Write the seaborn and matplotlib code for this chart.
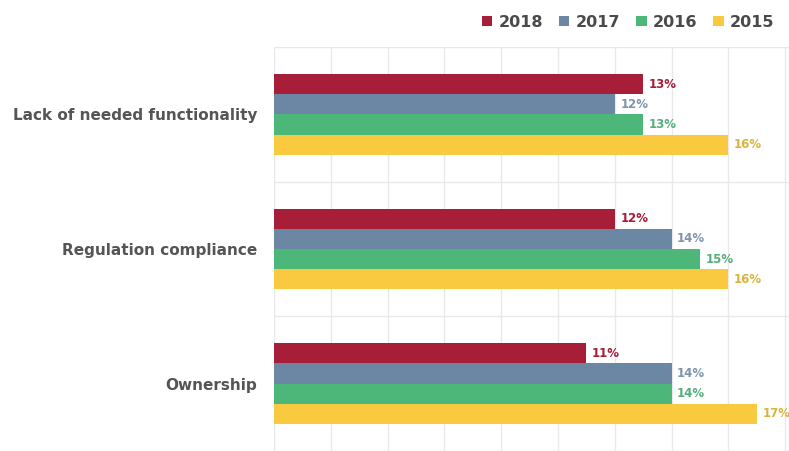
import matplotlib
matplotlib.use("Agg")
import matplotlib.pyplot as plt
import seaborn as sns
import pandas as pd

# Reasons cited, by survey year (percent of respondents)
categories = ["Lack of needed functionality", "Regulation compliance", "Ownership"]
years = ["2018", "2017", "2016", "2015"]
values_2018 = [13, 12, 11]
values_2017 = [12, 14, 14]
values_2016 = [13, 15, 14]
values_2015 = [16, 16, 17]

bar_colors = ["#A71E38", "#6C87A3", "#4DB679", "#F9C940"]
label_colors = ["#A71E38", "#7F95AD", "#53B07C", "#D9B43E"]

series = {"2018": values_2018, "2017": values_2017, "2016": values_2016, "2015": values_2015}
df = pd.DataFrame(
    [(cat, yr, series[yr][i]) for yr in years for i, cat in enumerate(categories)],
    columns=["category", "year", "value"],
)

sns.set_theme(style="white")
plt.rcParams["font.family"] = ["DejaVu Sans"]

fig = plt.figure(figsize=(7.89, 4.51), dpi=100)
ax = fig.add_axes([274 / 789, 0.0, 1 - 274 / 789, 1 - 47 / 451])

sns.barplot(
    data=df, y="category", x="value", hue="year", hue_order=years,
    order=categories, palette=bar_colors, width=0.6, saturation=1,
    orient="h", ax=ax, linewidth=0, legend=True,
)

for cont, col in zip(ax.containers, label_colors):
    ax.bar_label(cont, labels=[f"{v:g}%" for v in cont.datavalues], padding=4,
                 color=col, fontsize=8.5, fontweight="bold", clip_on=False)

ax.set_xlim(0, (789 - 274) / 28.4)
ax.set_ylim(2.46, -0.5)

# light background grid
ax.set_xticks(range(0, 20, 2))
ax.set_xticklabels([])
ax.set_yticks([-0.5, 0.5, 1.5, 2.5], minor=True)
ax.grid(axis="x", which="major", color="#E9E9E9", linewidth=1)
ax.grid(axis="y", which="minor", color="#E9E9E9", linewidth=1)
ax.set_axisbelow(True)
for s in ax.spines.values():
    s.set_visible(False)

ax.set_xlabel("")
ax.set_ylabel("")
ax.tick_params(axis="both", which="both", length=0)
ax.tick_params(axis="y", pad=12)
for t in ax.get_yticklabels():
    t.set_fontweight("bold")
    t.set_color("#555555")
    t.set_fontsize(11)

handles, labels = ax.get_legend_handles_labels()
ax.get_legend().remove()
fig.legend(handles, labels, loc="upper right", bbox_to_anchor=(0.992, 0.985),
           ncol=4, frameon=False, borderpad=0, handlelength=0.65, handleheight=0.65,
           handletextpad=0.4, columnspacing=1.0,
           prop={"weight": "bold", "size": 11.5}, labelcolor="#4A4A4A")

fig.savefig("out.png", dpi=100)
